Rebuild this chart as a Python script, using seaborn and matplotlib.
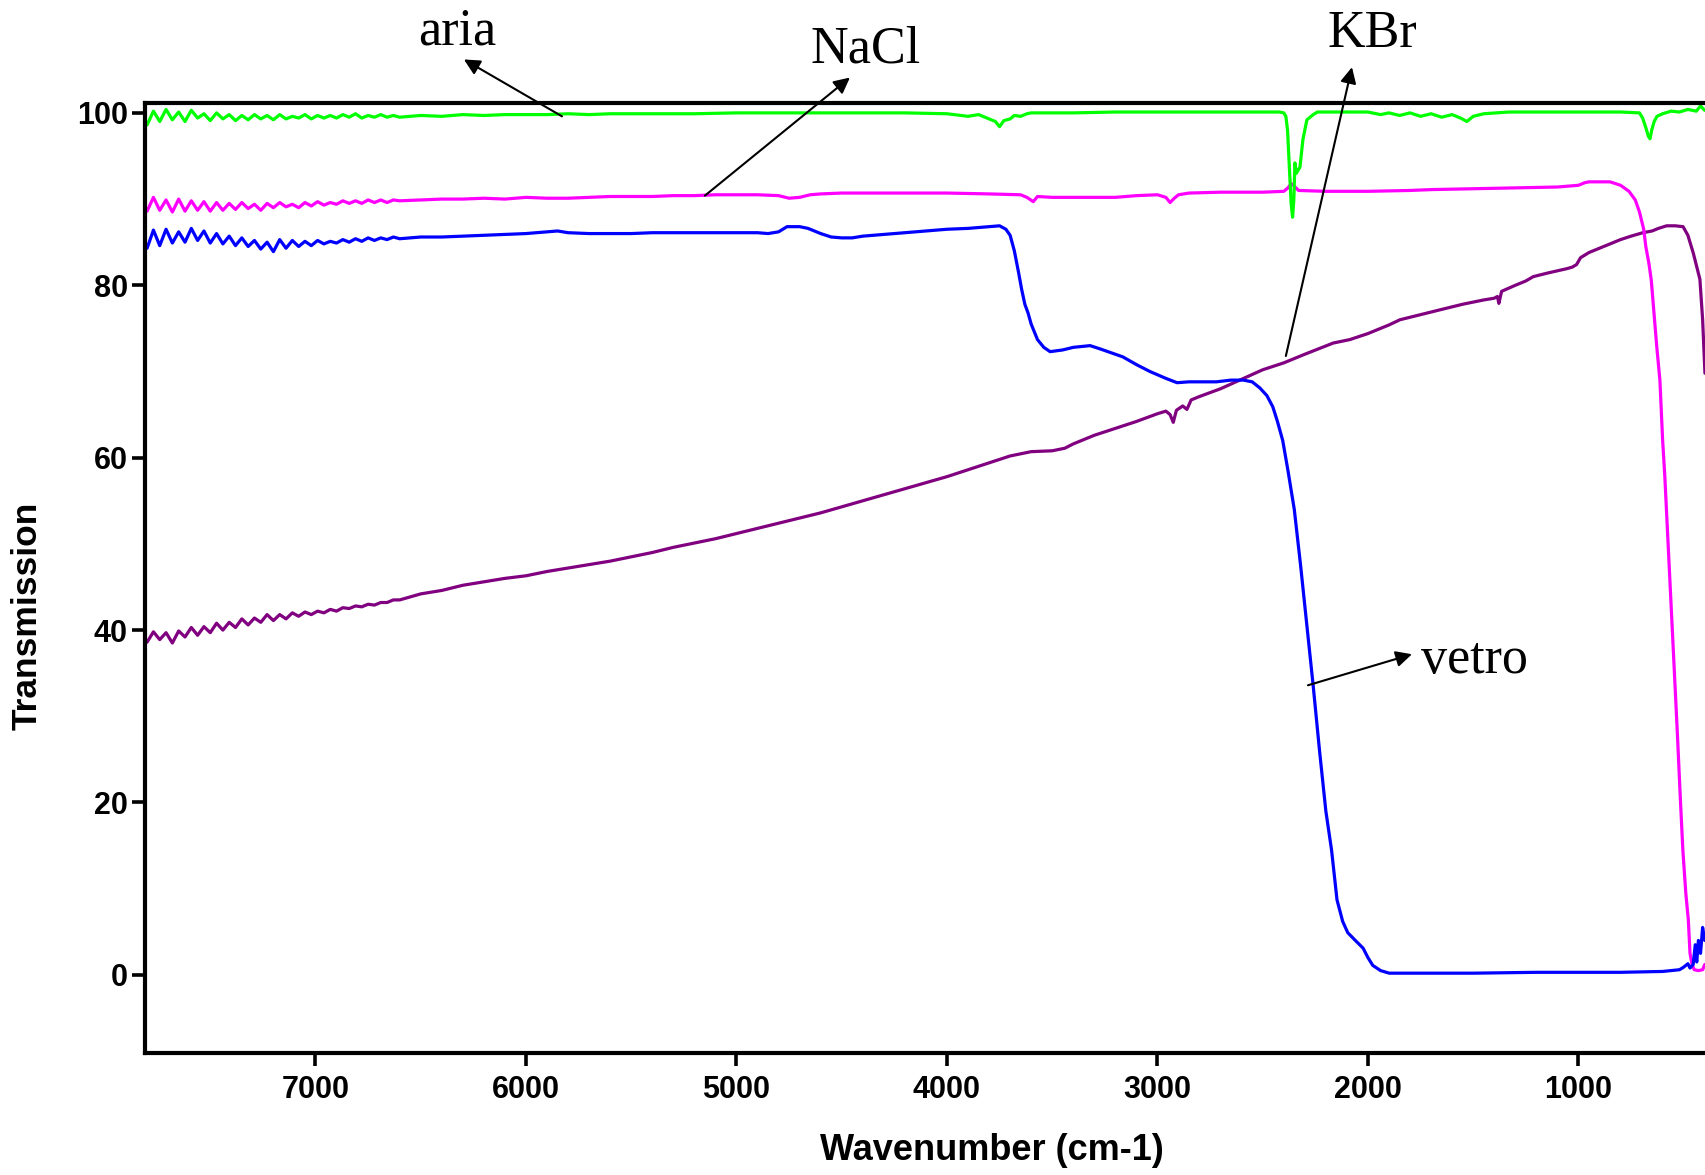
import numpy as np
import pandas as pd
import matplotlib
matplotlib.use("Agg")
import matplotlib.pyplot as plt
import seaborn as sns

# ---------------- data ----------------
noise_wn = [7800, 7770, 7740, 7710, 7680, 7650, 7620, 7590, 7560, 7530, 7500, 7470, 7440, 7410,
            7380, 7350, 7320, 7290, 7260, 7230, 7200, 7170, 7140, 7110, 7080, 7050, 7020, 6990,
            6960, 6930, 6900, 6870, 6840, 6810, 6780, 6750, 6720, 6690, 6660, 6630, 6600]

aria_wn = noise_wn + [6500, 6400, 6300, 6200, 6100, 6000, 5900, 5800, 5700, 5600, 5400, 5200, 5000,
                      4800, 4600, 4400, 4200, 4000, 3900, 3850, 3800, 3770, 3750, 3730, 3700, 3680,
                      3650, 3620, 3600, 3400, 3200, 3000, 2800, 2600, 2420, 2400, 2390, 2382, 2372,
                      2365, 2358, 2352, 2347, 2340, 2323, 2309, 2290, 2260, 2240, 2000, 1940, 1900,
                      1850, 1800, 1750, 1700, 1650, 1600, 1560, 1530, 1500, 1450, 1330, 1000, 800,
                      710, 695, 680, 668, 660, 652, 640, 627, 600, 560, 520, 480, 440, 420, 400]
aria_t = [98.6, 100.2, 99.0, 100.4, 99.2, 100.1, 99.0, 100.3, 99.4, 99.9, 99.1, 100.0, 99.3, 99.8,
          99.1, 99.7, 99.2, 99.8, 99.3, 99.7, 99.2, 99.8, 99.3, 99.6, 99.4, 99.8, 99.3, 99.7,
          99.4, 99.7, 99.4, 99.8, 99.5, 99.9, 99.4, 99.7, 99.5, 99.8, 99.5, 99.7, 99.5,
          99.7, 99.6, 99.8, 99.7, 99.8, 99.8, 99.8, 99.9, 99.8, 99.9, 99.9, 99.9, 100.0,
          100.0, 100.0, 100.0, 100.0, 99.9, 99.6, 99.8, 99.3, 99.0, 98.4, 99.1, 99.3, 99.7,
          99.6, 99.9, 100.0, 100.0, 100.1, 100.1, 100.1, 100.1, 100.1, 100.0, 99.6, 98.0, 93.0,
          89.5, 87.9, 90.0, 94.2, 93.0, 93.7, 96.9, 99.2, 99.8, 100.1, 100.1, 99.8, 100.0,
          99.7, 100.0, 99.6, 99.9, 99.5, 99.8, 99.4, 99.0, 99.6, 99.9, 100.1, 100.1, 100.1,
          100.0, 99.4, 98.3, 97.3, 97.0, 98.0, 99.0, 99.6, 99.9, 100.2, 100.1, 100.4, 100.2, 100.8, 100.3]

nacl_wn = noise_wn + [6500, 6400, 6300, 6200, 6100, 6000, 5900, 5800, 5700, 5600, 5500, 5400, 5300,
                      5200, 5100, 5000, 4900, 4800, 4750, 4700, 4650, 4600, 4500, 4400, 4200, 4000,
                      3800, 3650, 3620, 3590, 3570, 3500, 3400, 3200, 3100, 3000, 2960, 2940, 2920,
                      2900, 2850, 2700, 2500, 2400, 2380, 2365, 2350, 2330, 2200, 2000, 1800, 1700,
                      1500, 1300, 1100, 1050, 1000, 970, 950, 900, 850, 800, 760, 730, 710, 690, 680,
                      665, 654, 640, 628, 613, 600, 590, 570, 550, 530, 515, 504, 490, 478, 470, 460,
                      450, 430, 410, 400]
nacl_t = [88.6, 90.2, 88.7, 89.9, 88.5, 90.0, 88.6, 89.8, 88.7, 89.7, 88.6, 89.6, 88.7, 89.5,
          88.8, 89.6, 88.9, 89.4, 88.7, 89.5, 89.0, 89.6, 89.1, 89.4, 89.0, 89.6, 89.2, 89.7,
          89.3, 89.6, 89.4, 89.8, 89.5, 89.8, 89.5, 89.9, 89.6, 89.9, 89.6, 89.9, 89.8,
          89.9, 90.0, 90.0, 90.1, 90.0, 90.2, 90.1, 90.1, 90.2, 90.3, 90.3, 90.3, 90.4,
          90.4, 90.5, 90.5, 90.5, 90.4, 90.1, 90.2, 90.5, 90.6, 90.7, 90.7, 90.7, 90.7,
          90.6, 90.5, 90.2, 89.7, 90.3, 90.2, 90.2, 90.2, 90.4, 90.5, 90.2, 89.6, 90.1,
          90.5, 90.7, 90.8, 90.8, 90.9, 91.3, 91.8, 91.5, 91.0, 90.9, 90.9, 91.0, 91.1,
          91.2, 91.3, 91.4, 91.5, 91.6, 91.9, 92.0, 92.0, 92.0, 91.6, 90.9, 89.9, 88.5, 86.5, 84.5,
          82.5, 80.6, 76.5, 72.9, 69.0, 62.0, 58.0, 48.0, 38.0, 28.0, 20.0, 14.5, 9.5, 6.4, 2.5, 1.2,
          0.6, 0.5, 0.6, 1.2]

vetro_wn = noise_wn + [6500, 6400, 6300, 6200, 6100, 6000, 5900, 5850, 5800, 5700, 5600, 5500, 5400,
                       5300, 5200, 5100, 5000, 4900, 4850, 4800, 4760, 4700, 4660, 4600, 4550, 4500,
                       4450, 4400, 4300, 4200, 4100, 4000, 3900, 3800, 3750, 3720, 3700, 3680, 3660,
                       3645, 3630, 3615, 3600, 3570, 3540, 3510, 3450, 3400, 3320, 3270, 3200, 3165,
                       3100, 3036, 2960, 2907, 2850, 2720, 2650, 2592, 2550, 2514, 2480, 2452, 2430,
                       2405, 2380, 2350, 2320, 2290, 2260, 2230, 2200, 2173, 2147, 2120, 2096, 2060,
                       2023, 2000, 1977, 1940, 1899, 1800, 1500, 1200, 1000, 800, 600, 520, 500, 480,
                       470, 455, 445, 438, 430, 420, 410, 400]
vetro_t = [84.3, 86.4, 84.6, 86.5, 84.9, 86.2, 85.0, 86.6, 85.2, 86.3, 84.9, 86.0, 84.8, 85.7,
           84.6, 85.5, 84.5, 85.2, 84.2, 85.0, 83.9, 85.3, 84.3, 85.2, 84.5, 85.1, 84.6, 85.2,
           84.8, 85.1, 84.9, 85.3, 85.0, 85.4, 85.1, 85.5, 85.2, 85.5, 85.3, 85.6, 85.4,
           85.6, 85.6, 85.7, 85.8, 85.9, 86.0, 86.2, 86.3, 86.1, 86.0, 86.0, 86.0, 86.1,
           86.1, 86.1, 86.1, 86.1, 86.1, 86.0, 86.2, 86.8, 86.8, 86.6, 86.0, 85.6, 85.5,
           85.5, 85.7, 85.9, 86.1, 86.3, 86.5, 86.6, 86.8, 86.9, 86.5, 85.8, 84.0, 81.5,
           79.5, 77.8, 76.8, 75.5, 73.7, 72.8, 72.3, 72.5, 72.8, 73.0, 72.6, 72.0, 71.7,
           70.8, 70.0, 69.2, 68.7, 68.8, 68.8, 69.0, 69.0, 68.8, 68.1, 67.2, 65.9, 64.2,
           62.0, 58.5, 54.0, 47.5, 40.5, 33.5, 26.0, 19.0, 14.5, 8.7, 6.2, 4.9, 4.0,
           3.1, 2.0, 1.1, 0.5, 0.2, 0.2, 0.2, 0.3, 0.3, 0.3, 0.4, 0.6, 0.9, 1.3,
           0.8, 1.2, 3.5, 1.5, 4.0, 2.5, 5.5, 4.0]

kbr_wn = noise_wn + [6500, 6400, 6300, 6200, 6100, 6000, 5900, 5800, 5700, 5600, 5500, 5400, 5300,
                     5200, 5100, 5000, 4900, 4800, 4700, 4600, 4500, 4400, 4300, 4200, 4100, 4000,
                     3900, 3800, 3700, 3600, 3500, 3440, 3400, 3300, 3200, 3100, 3000, 2960, 2940,
                     2925, 2910, 2880, 2860, 2840, 2800, 2700, 2600, 2500, 2400, 2300, 2165, 2086,
                     2000, 1900, 1848, 1750, 1650, 1550, 1450, 1400, 1385, 1378, 1365, 1300, 1250,
                     1215, 1150, 1060, 1030, 1009, 990, 950, 900, 850, 800, 750, 694, 650, 620, 581,
                     540, 503, 480, 454, 423, 410, 399]
kbr_t = [38.6, 39.8, 38.9, 39.7, 38.5, 39.9, 39.2, 40.3, 39.4, 40.4, 39.7, 40.8, 40.0, 40.9,
         40.3, 41.3, 40.6, 41.4, 40.9, 41.8, 41.1, 41.8, 41.3, 42.0, 41.6, 42.1, 41.8, 42.2,
         42.0, 42.4, 42.2, 42.6, 42.5, 42.8, 42.7, 43.0, 42.9, 43.2, 43.2, 43.5, 43.5,
         44.2, 44.6, 45.2, 45.6, 46.0, 46.3, 46.8, 47.2, 47.6, 48.0, 48.5, 49.0, 49.6,
         50.1, 50.6, 51.2, 51.8, 52.4, 53.0, 53.6, 54.3, 55.0, 55.7, 56.4, 57.1, 57.8,
         58.6, 59.4, 60.2, 60.7, 60.8, 61.1, 61.6, 62.6, 63.4, 64.2, 65.1, 65.4, 65.0,
         64.1, 65.5, 66.0, 65.6, 66.7, 67.1, 68.0, 69.1, 70.2, 71.0, 72.0, 73.3, 73.7,
         74.4, 75.4, 76.0, 76.6, 77.2, 77.8, 78.3, 78.5, 78.7, 77.9, 79.3, 80.0, 80.5,
         81.0, 81.4, 81.9, 82.1, 82.4, 83.2, 83.8, 84.3, 84.8, 85.3, 85.7, 86.1, 86.3, 86.6, 86.9,
         86.9, 86.8, 85.8, 83.7, 80.7, 76.0, 69.8]

series_names = ["KBr", "NaCl", "vetro", "aria"]
series_colors = {"aria": "#00FF00", "NaCl": "#FF00FF", "vetro": "#0000FF", "KBr": "#800080"}

x_ticks = [7000, 6000, 5000, 4000, 3000, 2000, 1000]
y_ticks = [0, 20, 40, 60, 80, 100]

# label text (position) and arrow tail / head in data units
labels = ["aria", "NaCl", "KBr", "vetro"]
label_pos = [(6328, 107.9), (4385, 105.8), (1981, 107.6), (1496, 35.0)]
arrow_tail = [(5829, 99.6), (5150, 90.4), (2390, 71.8), (2285, 33.6)]
arrow_head = [(6295, 106.2), (4461, 104.1), (2076, 105.3), (1791, 37.2)]

frames = {
    "aria": pd.DataFrame({"Wavenumber": aria_wn, "Transmission": aria_t}),
    "NaCl": pd.DataFrame({"Wavenumber": nacl_wn, "Transmission": nacl_t}),
    "vetro": pd.DataFrame({"Wavenumber": vetro_wn, "Transmission": vetro_t}),
    "KBr": pd.DataFrame({"Wavenumber": kbr_wn, "Transmission": kbr_t}),
}

# ---------------- style ----------------
sns.set_theme(style="white")
plt.rcParams["font.family"] = ["Liberation Sans", "DejaVu Sans"]

W, H = 1706, 1175
fig = plt.figure(figsize=(W / 100, H / 100), dpi=100)
ax_left, ax_right, ax_top, ax_bottom = 145, 1706, 103.4, 1053
ax = fig.add_axes([ax_left / W, 1 - ax_bottom / H, (ax_right - ax_left) / W, (ax_bottom - ax_top) / H])

for name in series_names:
    sns.lineplot(data=frames[name], x="Wavenumber", y="Transmission", ax=ax,
                 color=series_colors[name], linewidth=2.3, estimator=None, sort=False)

ax.set_xlim(7810, 394)
ax.set_ylim(-9.06, 101.1)
ax.set_xticks(x_ticks)
ax.set_yticks(y_ticks)
ax.set_xticklabels([str(v) for v in x_ticks], fontsize=22, fontweight="bold")
ax.set_yticklabels([str(v) for v in y_ticks], fontsize=22, fontweight="bold")
ax.tick_params(axis="both", which="major", direction="out", length=9.5, width=2.6,
               color="black", labelcolor="black", bottom=True, left=True)
ax.tick_params(axis="x", pad=6)
ax.tick_params(axis="y", pad=3)

for side in ["left", "bottom", "top"]:
    ax.spines[side].set_visible(True)
    ax.spines[side].set_color("black")
    ax.spines[side].set_linewidth(3.0)
ax.spines["right"].set_visible(False)
ax.grid(False)

ax.set_xlabel("Wavenumber (cm-1)", fontsize=26, fontweight="bold", color="black")
ax.set_ylabel("Transmission", fontsize=25.5, fontweight="bold", color="black")
ax.xaxis.label.set_va("center")
ax.yaxis.label.set_va("center")
ax.xaxis.set_label_coords((992 - ax_left) / (ax_right - ax_left), (ax_bottom - 1151) / (ax_bottom - ax_top))
ax.yaxis.set_label_coords((27 - ax_left) / (ax_right - ax_left), (ax_bottom - 616) / (ax_bottom - ax_top))

for lab, pos, tail, head in zip(labels, label_pos, arrow_tail, arrow_head):
    ax.text(pos[0], pos[1], lab, ha="center", va="baseline", fontsize=37.5,
            family=["Liberation Serif", "DejaVu Serif"], color="black", clip_on=False)
    ax.annotate("", xy=head, xytext=tail, xycoords="data", textcoords="data",
                annotation_clip=False,
                arrowprops=dict(arrowstyle="-|>", color="black", lw=1.5,
                                mutation_scale=24, shrinkA=0, shrinkB=0))

fig.savefig("out.png", dpi=100)
